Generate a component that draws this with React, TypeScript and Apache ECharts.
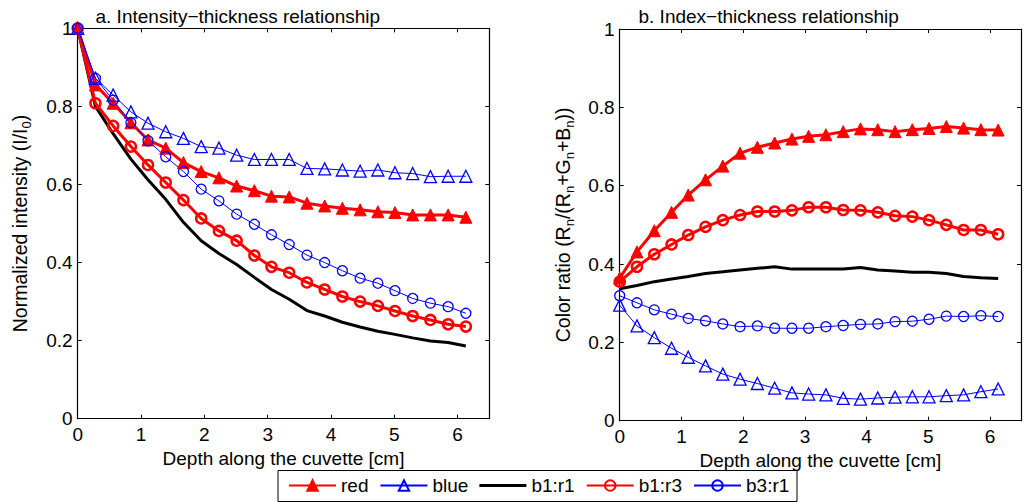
import React, { useEffect, useRef } from "react";
import * as echarts from "echarts";

// Depth along the cuvette [cm]
const depth = [0, 0.28, 0.56, 0.84, 1.11, 1.39, 1.67, 1.95, 2.23, 2.51, 2.79, 3.06, 3.34, 3.62, 3.9, 4.18, 4.46, 4.74, 5.01, 5.29, 5.57, 5.85, 6.13];

// Panel a: normalized intensity (I/I0)
const intRed = [1.0, 0.855, 0.808, 0.758, 0.714, 0.693, 0.656, 0.633, 0.617, 0.596, 0.584, 0.57, 0.568, 0.552, 0.545, 0.539, 0.535, 0.53, 0.528, 0.522, 0.522, 0.522, 0.516];
const intBlue = [1.0, 0.872, 0.829, 0.786, 0.757, 0.735, 0.718, 0.697, 0.693, 0.675, 0.664, 0.664, 0.664, 0.641, 0.64, 0.637, 0.634, 0.637, 0.63, 0.628, 0.62, 0.621, 0.621];
const intB1R1 = [1.0, 0.8, 0.73, 0.665, 0.612, 0.562, 0.503, 0.456, 0.423, 0.395, 0.362, 0.331, 0.306, 0.277, 0.263, 0.247, 0.235, 0.224, 0.216, 0.207, 0.199, 0.195, 0.186];
const intB1R3 = [1.0, 0.808, 0.75, 0.697, 0.65, 0.605, 0.56, 0.513, 0.481, 0.456, 0.418, 0.389, 0.374, 0.349, 0.331, 0.313, 0.3, 0.289, 0.276, 0.263, 0.253, 0.242, 0.236];
const intB3R1 = [1.0, 0.872, 0.816, 0.758, 0.712, 0.671, 0.633, 0.588, 0.558, 0.524, 0.498, 0.471, 0.446, 0.419, 0.4, 0.379, 0.36, 0.347, 0.328, 0.308, 0.296, 0.287, 0.27];

// Panel b: color ratio Rn/(Rn+Gn+Bn)
const ratRed = [0.364, 0.431, 0.485, 0.532, 0.576, 0.615, 0.65, 0.683, 0.698, 0.709, 0.719, 0.726, 0.73, 0.738, 0.745, 0.743, 0.738, 0.743, 0.746, 0.751, 0.747, 0.743, 0.742];
const ratBlue = [0.295, 0.242, 0.212, 0.185, 0.162, 0.14, 0.119, 0.106, 0.095, 0.083, 0.071, 0.068, 0.066, 0.057, 0.055, 0.058, 0.06, 0.061, 0.061, 0.064, 0.066, 0.074, 0.081];
const ratB1R1 = [0.337, 0.345, 0.355, 0.362, 0.368, 0.376, 0.38, 0.385, 0.389, 0.393, 0.387, 0.387, 0.387, 0.387, 0.391, 0.385, 0.382, 0.379, 0.379, 0.376, 0.368, 0.365, 0.363];
const ratB1R3 = [0.355, 0.393, 0.425, 0.45, 0.474, 0.495, 0.512, 0.525, 0.534, 0.534, 0.537, 0.545, 0.545, 0.538, 0.537, 0.532, 0.523, 0.521, 0.512, 0.5, 0.487, 0.487, 0.476];
const ratB3R1 = [0.319, 0.301, 0.283, 0.272, 0.261, 0.255, 0.247, 0.24, 0.242, 0.236, 0.236, 0.236, 0.24, 0.243, 0.246, 0.247, 0.253, 0.254, 0.259, 0.267, 0.266, 0.268, 0.266];

const seriesNames = ["red", "blue", "b1:r1", "b1:r3", "b3:r1"];
const panelA = [intRed, intBlue, intB1R1, intB1R3, intB3R1];
const panelB = [ratRed, ratBlue, ratB1R1, ratB1R3, ratB3R1];

const titleA = "a. Intensity\u2212thickness relationship";
const titleB = "b. Index\u2212thickness relationship";
const xName = "Depth along the cuvette [cm]";

const FONT = "'Liberation Sans', Arial, Helvetica, sans-serif";
const RED = "#ff0000";
const BLUE = "#0000ff";
const CLEAR = "rgba(0,0,0,0)";

const seriesStyles: any[] = [
  { symbol: "triangle", symbolSize: 12, lineStyle: { color: RED, width: 3 }, itemStyle: { color: RED, borderColor: RED, borderWidth: 1 } },
  { symbol: "triangle", symbolSize: 12, lineStyle: { color: BLUE, width: 1 }, itemStyle: { color: CLEAR, borderColor: BLUE, borderWidth: 1.3 } },
  { symbol: "none", lineStyle: { color: "#000", width: 3 }, itemStyle: { color: "#000" } },
  { symbol: "circle", symbolSize: 10, lineStyle: { color: RED, width: 3 }, itemStyle: { color: CLEAR, borderColor: RED, borderWidth: 2.5 } },
  { symbol: "circle", symbolSize: 10, lineStyle: { color: BLUE, width: 1 }, itemStyle: { color: CLEAR, borderColor: BLUE, borderWidth: 1.3 } },
];

const grids = [
  { left: 77.7, top: 28.3, width: 411.6, height: 390.4 },
  { left: 619.7, top: 29, width: 412.1, height: 391.7 },
];

const axisLine = { show: true, onZero: false, lineStyle: { color: "#000", width: 1.2 } };
const tickIn = { show: true, inside: true, length: 4, lineStyle: { color: "#000", width: 1 } };
const labelStyle = { color: "#000", fontSize: 19, fontFamily: FONT };

export default function App() {
  const ref = useRef<HTMLDivElement>(null);
  useEffect(() => {
    if (!ref.current) return;
    const chart = echarts.init(ref.current, null, { renderer: "svg" });

    const xAxes: any[] = [];
    const yAxes: any[] = [];
    grids.forEach((_, g) => {
      xAxes.push({
        type: "value", gridIndex: g, position: "bottom", min: 0, max: 6.5, interval: 1,
        axisLine, axisTick: tickIn, splitLine: { show: false },
        axisLabel: { ...labelStyle, margin: 6, formatter: (v: number) => (Number.isInteger(v) ? String(v) : "") },
        name: xName, nameLocation: "middle", nameGap: 28,
        nameTextStyle: { color: "#000", fontSize: 19, fontFamily: FONT },
      });
      xAxes.push({
        type: "value", gridIndex: g, position: "top", min: 0, max: 6.5, interval: 1,
        axisLine, axisTick: tickIn, splitLine: { show: false }, axisLabel: { show: false },
      });
    });
    const subRich = {
      m: { fontSize: 19.5, fontFamily: FONT, color: "#000", lineHeight: 25 },
      s: { fontSize: 13, fontFamily: FONT, color: "#000", lineHeight: 13, verticalAlign: "bottom" },
    };
    const yNames = [
      "{m|Normalized intensity (I/I}{s|0}{m|)}",
      "{m|Color ratio (R}{s|n}{m|/(R}{s|n}{m|+G}{s|n}{m|+B}{s|n}{m|))}",
    ];
    grids.forEach((_, g) => {
      yAxes.push({
        type: "value", gridIndex: g, position: "left", min: 0, max: 1, interval: 0.2,
        axisLine, axisTick: tickIn, splitLine: { show: false },
        axisLabel: { ...labelStyle, margin: 5 },
        name: yNames[g], nameLocation: "middle", nameGap: g === 0 ? 45 : 44,
        nameTextStyle: { color: "#000", fontSize: 19.5, fontFamily: FONT, rich: subRich },
      });
      yAxes.push({
        type: "value", gridIndex: g, position: "right", min: 0, max: 1, interval: 0.2,
        axisLine, axisTick: tickIn, splitLine: { show: false }, axisLabel: { show: false },
      });
    });

    const series: any[] = [];
    [panelA, panelB].forEach((panel, g) => {
      panel.forEach((vals, k) => {
        series.push({
          type: "line",
          name: seriesNames[k],
          xAxisIndex: g * 2,
          yAxisIndex: g * 2,
          data: depth.map((d, i) => [d, vals[i]]),
          ...seriesStyles[k],
          showSymbol: seriesStyles[k].symbol !== "none",
          clip: false,
          emphasis: { disabled: true },
        });
      });
    });

    const legendData = seriesNames.map((n, k) =>
      seriesStyles[k].symbol === "none" ? { name: n, icon: "path://M0,0H47V3H0Z" } : { name: n }
    );

    chart.setOption({
      animation: false,
      backgroundColor: "#fff",
      title: [
        { text: titleA, left: 95.5, top: 6.5, padding: 0, textStyle: { color: "#000", fontSize: 19, fontWeight: "normal", fontFamily: FONT } },
        { text: titleB, left: 638.5, top: 6.5, padding: 0, textStyle: { color: "#000", fontSize: 19, fontWeight: "normal", fontFamily: FONT } },
      ],
      grid: grids,
      xAxis: xAxes,
      yAxis: yAxes,
      graphic: [
        {
          type: "rect", z: 3, silent: true,
          shape: { x: 278, y: 470.5, width: 519, height: 31 },
          style: { fill: "#fff", stroke: "#000", lineWidth: 1 },
        },
      ],
      legend: {
        data: legendData,
        left: 288, top: 476,
        padding: 0,
        itemWidth: 47, itemHeight: 13, itemGap: 11,
        z: 10,
        selectedMode: false,
        textStyle: { color: "#000", fontSize: 19, fontFamily: FONT },
      },
      series,
    });
    return () => chart.dispose();
  }, []);
  return <div ref={ref} style={{ position: "absolute", left: 0, top: 0, width: 1024, height: 502 }} />;
}
